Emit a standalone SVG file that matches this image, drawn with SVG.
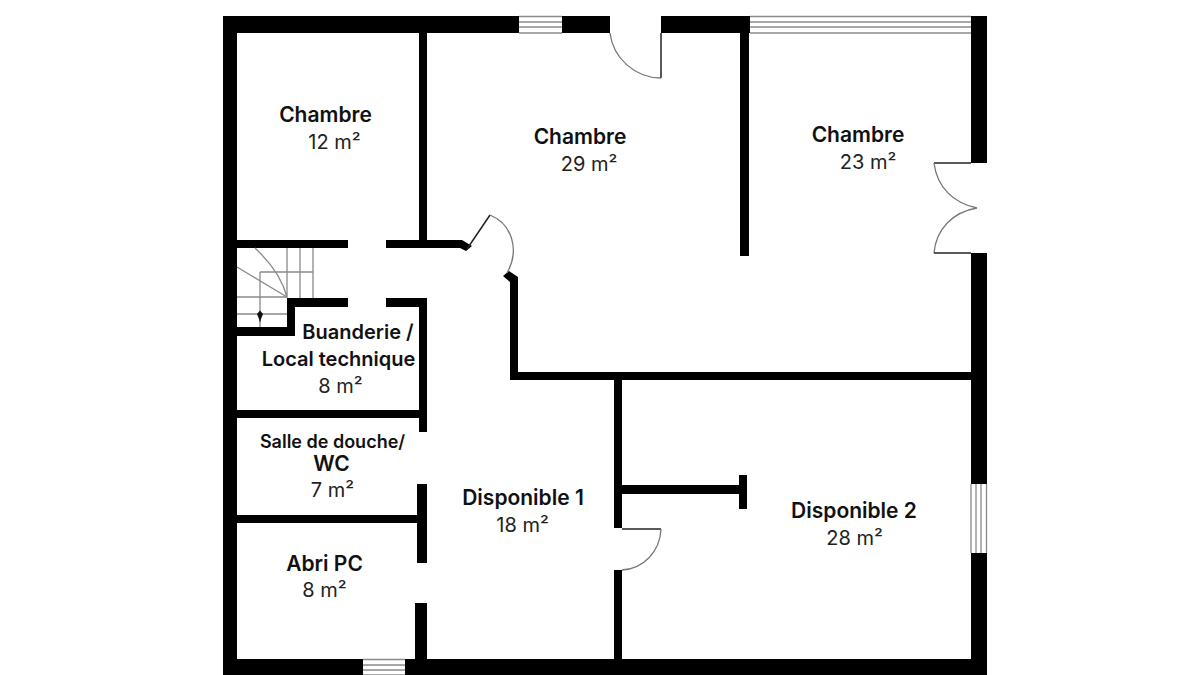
<svg xmlns="http://www.w3.org/2000/svg" width="1200" height="675" viewBox="0 0 1200 675">
<style>
.w{fill:#000}
.g{fill:none;stroke:#8a8a8a;stroke-width:1.3}
.d{fill:none;stroke:#777;stroke-width:1.3}
.l{fill:none;stroke:#222;stroke-width:1.5}
.n{font-family:Inter,"Liberation Sans",sans-serif;font-weight:600;font-size:21px;fill:#111;text-anchor:middle}
.s{font-size:20px}
.a{font-family:Inter,"Liberation Sans",sans-serif;font-weight:400;font-size:20px;fill:#222;text-anchor:middle}
</style>
<rect width="1200" height="675" fill="#fff"/>
<g id="walls">
<rect class="w" x="223" y="16" width="296" height="17"/>
<rect class="w" x="562" y="16" width="48" height="17"/>
<rect class="w" x="661" y="16" width="89" height="17"/>
<rect class="w" x="223" y="16" width="14" height="659"/>
<rect class="w" x="971" y="16" width="16" height="147"/>
<rect class="w" x="971" y="253" width="16" height="231"/>
<rect class="w" x="971" y="553" width="16" height="122"/>
<rect class="w" x="223" y="659" width="140" height="16"/>
<rect class="w" x="405" y="659" width="582" height="16"/>
<rect class="w" x="740" y="33" width="9" height="223"/>
<rect class="w" x="419" y="33" width="8" height="207"/>
<rect class="w" x="237" y="240" width="111" height="8"/>
<path class="w" d="M386 240H462L472 246L466 251L460 248H386Z"/>
<path class="w" d="M503 276L509 271L518 277V372H971V380H622V528H614V380H510V282Z"/>
<rect class="w" x="287" y="298" width="61" height="9"/>
<rect class="w" x="287" y="298" width="8" height="38"/>
<rect class="w" x="237" y="327" width="58" height="9"/>
<rect class="w" x="386" y="298" width="41" height="9"/>
<rect class="w" x="419" y="298" width="8" height="134"/>
<rect class="w" x="237" y="410" width="182" height="8"/>
<rect class="w" x="237" y="515" width="180" height="8"/>
<rect class="w" x="417" y="484" width="10" height="79"/>
<rect class="w" x="415" y="603" width="12" height="56"/>
<rect class="w" x="614" y="570" width="8" height="89"/>
<rect class="w" x="622" y="485" width="117" height="9"/>
<rect class="w" x="739" y="475" width="8" height="34"/>
</g>
<g id="windows">
<path class="g" d="M519 16.500H562M519 22H562M519 27H562M519 33H562"/>
<path class="g" d="M750 16.500H971M750 22H971M750 27H971M750 33H971"/>
<path class="g" d="M971 484V553M976 484V553M981 484V553M986.500 484V553"/>
<path class="g" d="M363 659.500H405M363 665H405M363 670H405M363 675H405"/>
</g>
<g id="doors">
<path class="l" d="M661 33V78"/>
<path class="d" d="M610 33C613 58 635 78 661 78"/>
<path class="l" d="M934 163H971"/>
<path class="d" d="M934 163C937 187 953 203 977 208C953 212 936 229 934 253"/>
<path class="l" d="M934 253H971"/>
<path class="l" d="M467 249L490 215"/>
<path class="d" d="M490 215C512 224 520 250 507 273"/>
<path class="l" d="M622 529H661"/>
<path class="d" d="M661 529C660 552 643 569 622 570"/>
</g>
<g id="stairs">
<path class="g" d="M287 248V298M300 248V298M313 248V298M260 272V327M260 272H313M237 297H287M237 314H287M237 267L287 297M255 248C270 262 282 278 287 297"/>
<path fill="#111" d="M257 314L260 310.500L263 314L261 319L260 323L259 319Z"/>
</g>
<g id="room-chambre-12"><text class="n" x="325.500" y="121.500">Chambre</text><text class="a" x="334.500" y="148.500">12 m²</text></g>
<g id="room-chambre-29"><text class="n" x="580" y="143.500">Chambre</text><text class="a" x="589" y="170.500">29 m²</text></g>
<g id="room-chambre-23"><text class="n" x="858" y="141.500">Chambre</text><text class="a" x="868" y="168.500">23 m²</text></g>
<g id="room-buanderie"><text class="n s" x="358" y="339">Buanderie /</text><text class="n s" x="338.500" y="366">Local technique</text><text class="a" x="340.500" y="392.500">8 m²</text></g>
<g id="room-douche"><text class="n" x="332.500" y="448" style="font-size:18px">Salle de douche/</text><text class="n" x="331.500" y="470.500">WC</text><text class="a" x="332.500" y="496.500">7 m²</text></g>
<g id="room-abri"><text class="n" x="324.500" y="570.500">Abri PC</text><text class="a" x="324.500" y="596.500">8 m²</text></g>
<g id="room-disponible-1"><text class="n" x="523" y="504.500">Disponible 1</text><text class="a" x="522.500" y="531.500">18 m²</text></g>
<g id="room-disponible-2"><text class="n" x="854" y="517.500">Disponible 2</text><text class="a" x="854.500" y="544.500">28 m²</text></g>
</svg>
